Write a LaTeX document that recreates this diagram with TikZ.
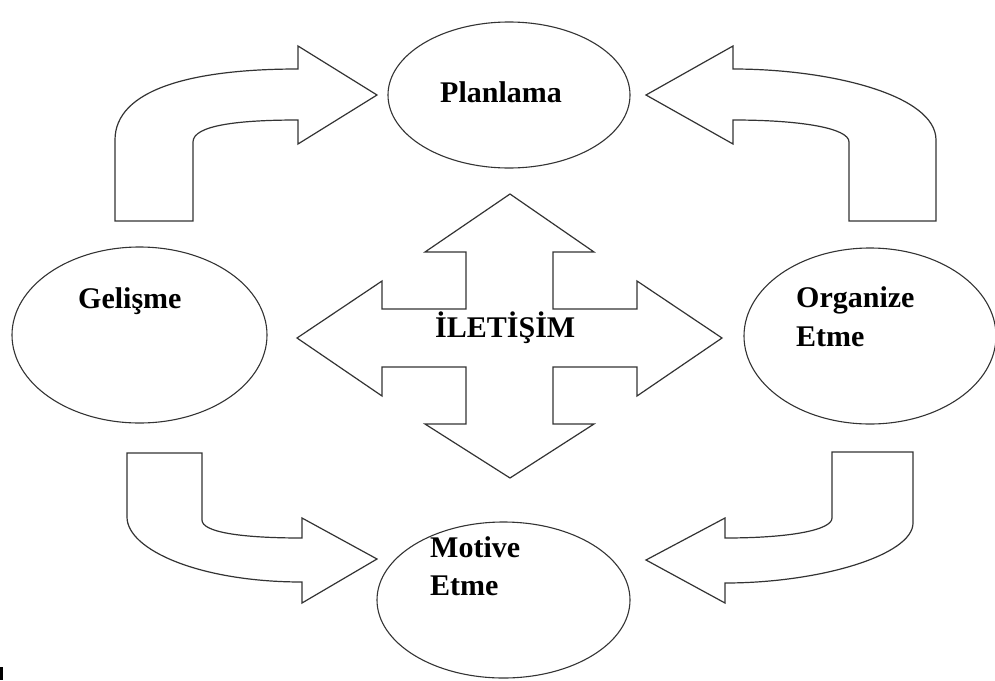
\documentclass[tikz,border=0pt]{standalone}
\usepackage{fontspec}
\setmainfont{Liberation Serif}
\usetikzlibrary{shapes.geometric}
\begin{document}
\begin{tikzpicture}[x=1pt,y=-1pt,
  oval/.style={draw=black!80, line width=1.1pt, ellipse, inner sep=0pt},
  blockarrow/.style={draw=black!80, line width=1.2pt, line join=miter, fill=white},
  lbl/.style={anchor=base west, inner sep=0pt, font=\bfseries\fontsize{30}{38}\selectfont, text=black}]
\useasboundingbox (0,0) rectangle (995,680);

% ellipses
\node[oval, minimum width=242pt, minimum height=146pt] (plan) at (509,95) {};
\node[oval, minimum width=255pt, minimum height=176pt] (gel) at (139.5,335) {};
\node[oval, minimum width=252pt, minimum height=176pt] (org) at (870,336) {};
\node[oval, minimum width=253pt, minimum height=156pt] (mot) at (503.5,600) {};

% top-left curved arrow
\draw[blockarrow] (115,221) -- (115,140) .. controls (115,90) and (190,69) .. (298,69)
  -- (298,46) -- (377,95) -- (298,144) -- (298,120)
  .. controls (240,120) and (193,125) .. (193,142) -- (193,221) -- cycle;

% top-right curved arrow
\draw[blockarrow] (936,221) -- (936,140) .. controls (936,95) and (830,69) .. (733,69)
  -- (733,46) -- (646,95) -- (733,144) -- (733,120)
  .. controls (800,120) and (849,128) .. (849,142) -- (849,221) -- cycle;

% bottom-left curved arrow
\draw[blockarrow] (127,453) -- (202,453) -- (202,520) .. controls (202,532) and (240,538) .. (302,538)
  -- (302,518) -- (377,559) -- (302,603) -- (302,582)
  .. controls (200,582) and (127,550) .. (127,517) -- cycle;

% bottom-right curved arrow
\draw[blockarrow] (913,452) -- (832,452) -- (832,518) .. controls (832,530) and (790,538) .. (725,538)
  -- (725,518) -- (646,560) -- (725,603) -- (725,583)
  .. controls (820,583) and (913,555) .. (913,523) -- cycle;

% central four-way arrow
\draw[blockarrow] (510,194) -- (594,252) -- (553,252) -- (553,309) -- (637,309) -- (637,281)
  -- (722,338) -- (637,396) -- (637,367) -- (553,367) -- (553,424) -- (594,424)
  -- (510,478) -- (425,424) -- (466,424) -- (466,367) -- (382,367) -- (382,396)
  -- (297,338) -- (382,281) -- (382,309) -- (466,309) -- (466,252) -- (425,252) -- cycle;

% labels
\node[lbl] (tplan) at (440,102) {Planlama};
\node[lbl] (tgel) at (78,308) {Gelişme};
\node[lbl] (torg1) at (796,307) {Organize};
\node[lbl] (torg2) at (796,346) {Etme};
\node[lbl] (tmot1) at (430,557) {Motive};
\node[lbl] (tmot2) at (430,595) {Etme};
\node[lbl] (tile) at (435,337) {İLETİŞİM};

% small mark at bottom-left corner
\fill[black] (0,667) rectangle (3,680);
\end{tikzpicture}
\end{document}
